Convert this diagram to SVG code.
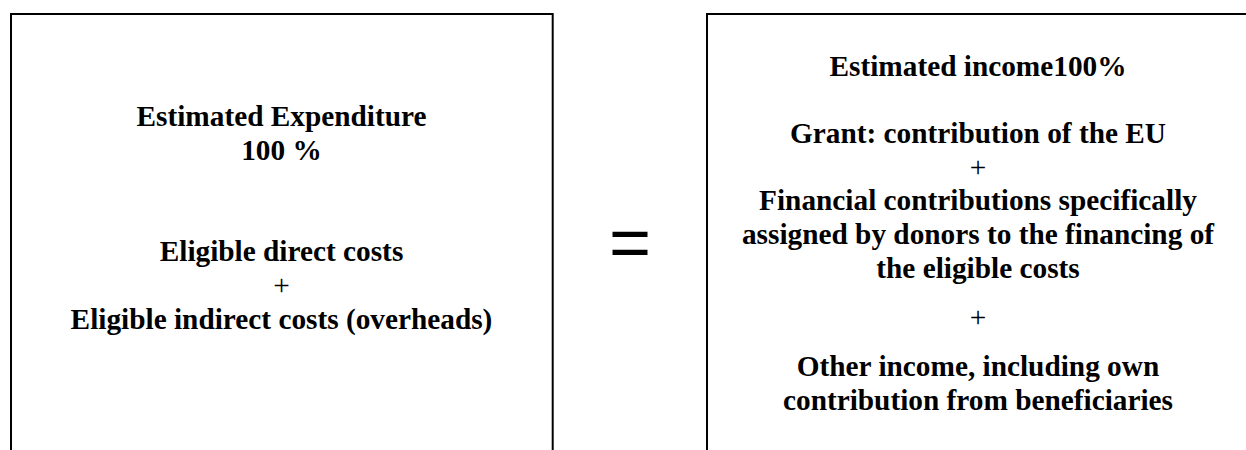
<svg xmlns="http://www.w3.org/2000/svg" width="1246" height="450" viewBox="0 0 1246 450">
  <style>
    .box { fill: none; stroke: #000; stroke-width: 2; }
    .t { font-family: "Liberation Serif", "Times New Roman", serif; font-size: 29.3px; font-weight: bold; fill: #000; text-anchor: middle; }
    .p { font-family: "Liberation Serif", "Times New Roman", serif; font-size: 29.3px; font-weight: normal; fill: #000; text-anchor: middle; }
    .eq { font-family: "Liberation Sans", Arial, sans-serif; font-size: 72px; fill: #000; text-anchor: middle; }
  </style>
  <rect width="1246" height="450" fill="#fff"/>
  <g id="expenditure">
    <path class="box" d="M11,452 V14 H552.7 V452"/>
    <text class="t" x="281.5" y="126">Estimated Expenditure</text>
    <text class="t" x="281.5" y="160">100 %</text>
    <text class="t" x="281.5" y="261">Eligible direct costs</text>
    <text class="p" x="281.5" y="295">+</text>
    <text class="t" x="281.5" y="329">Eligible indirect costs (overheads)</text>
  </g>
  <g id="equals">
    <text class="eq" x="630" y="267">=</text>
  </g>
  <g id="income">
    <path class="box" d="M707,452 V14 H1252"/>
    <text class="t" x="978" y="76">Estimated income100%</text>
    <text class="t" x="978" y="143">Grant: contribution of the EU</text>
    <text class="p" x="978" y="177">+</text>
    <text class="t" x="978" y="210">Financial contributions specifically</text>
    <text class="t" x="978" y="244">assigned by donors to the financing of</text>
    <text class="t" x="978" y="278">the eligible costs</text>
    <text class="p" x="978" y="327">+</text>
    <text class="t" x="978" y="376">Other income, including own</text>
    <text class="t" x="978" y="410">contribution from beneficiaries</text>
  </g>
  <g id="connectors"></g>
</svg>
